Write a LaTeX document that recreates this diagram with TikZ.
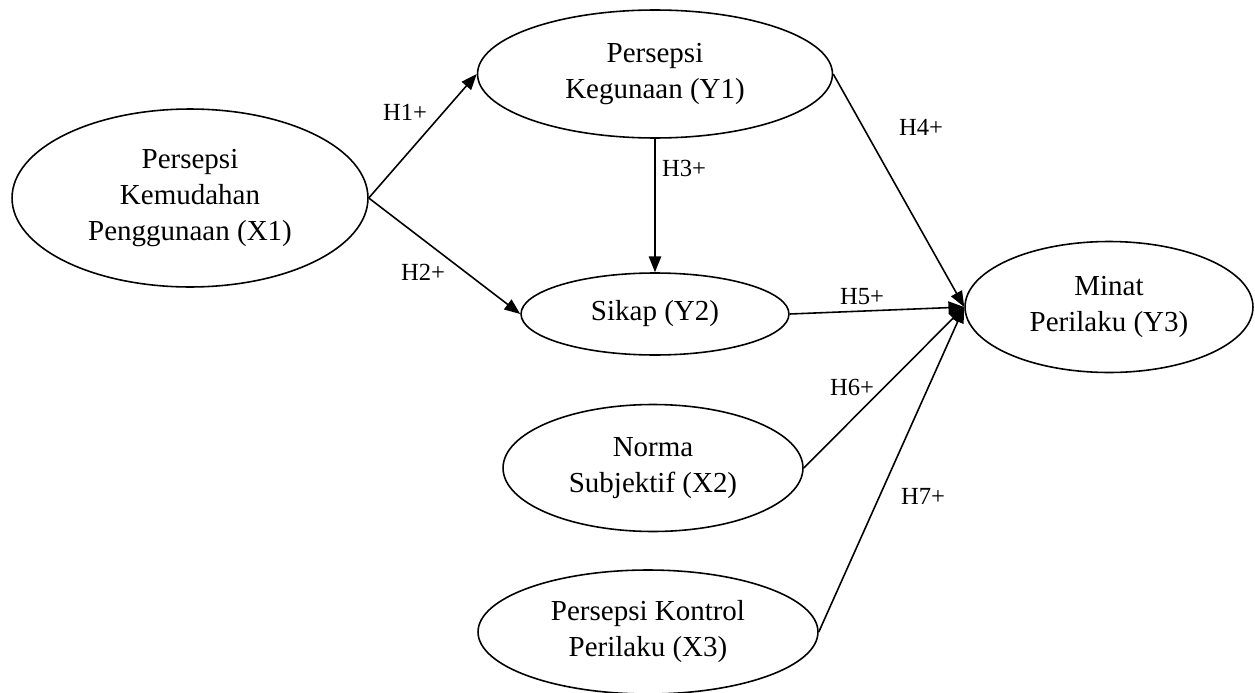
\documentclass[tikz,border=0pt]{standalone}
\usepackage{fontspec}
\setmainfont{Liberation Serif}
\usetikzlibrary{shapes.geometric,arrows.meta}
\tikzset{
  var/.style={draw, ellipse, line width=0.9pt, inner sep=0pt, align=center,
    font=\fontsize{16.5}{20.5}\selectfont},
  hlab/.style={font=\fontsize{14}{17}\selectfont, inner sep=0pt},
  conn/.style={line width=0.9pt, -{Triangle[length=9pt,width=7pt]}},
}
\begin{document}
\begin{tikzpicture}[x=0.02cm, y=-0.02cm]
\useasboundingbox (0,0) rectangle (1255,693);
\node[var, minimum width=7.12cm, minimum height=3.56cm] (X1) at (190,198) {Persepsi\\Kemudahan\\Penggunaan (X1)};
\node[var, minimum width=7.10cm, minimum height=2.56cm] (Y1) at (655,74) {Persepsi\\Kegunaan (Y1)};
\node[var, minimum width=5.36cm, minimum height=1.64cm] (Y2) at (655,314) {Sikap (Y2)};
\node[var, minimum width=5.76cm, minimum height=2.62cm] (Y3) at (1109,307) {Minat\\Perilaku (Y3)};
\node[var, minimum width=6.00cm, minimum height=2.54cm] (X2) at (653,468) {Norma\\Subjektif (X2)};
\node[var, minimum width=6.80cm, minimum height=2.48cm] (X3) at (648,632) {Persepsi Kontrol\\Perilaku (X3)};

\draw[conn] (X1.east) -- (Y1.west);
\draw[conn] (X1.east) -- (Y2.west);
\draw[conn] (Y1.south) -- (Y2.north);
\draw[conn] (Y1.east) -- (Y3.west);
\draw[conn] (Y2.east) -- (Y3.west);
\draw[conn] (X2.east) -- (Y3.west);
\draw[conn] (X3.east) -- (Y3.west);

\node[hlab] (h1) at (405,112) {H1+};
\node[hlab] (h2) at (423,272) {H2+};
\node[hlab] (h3) at (684,168) {H3+};
\node[hlab] (h4) at (921,127) {H4+};
\node[hlab] (h5) at (862,297) {H5+};
\node[hlab] (h6) at (852,387) {H6+};
\node[hlab] (h7) at (923,496) {H7+};
\end{tikzpicture}
\end{document}
